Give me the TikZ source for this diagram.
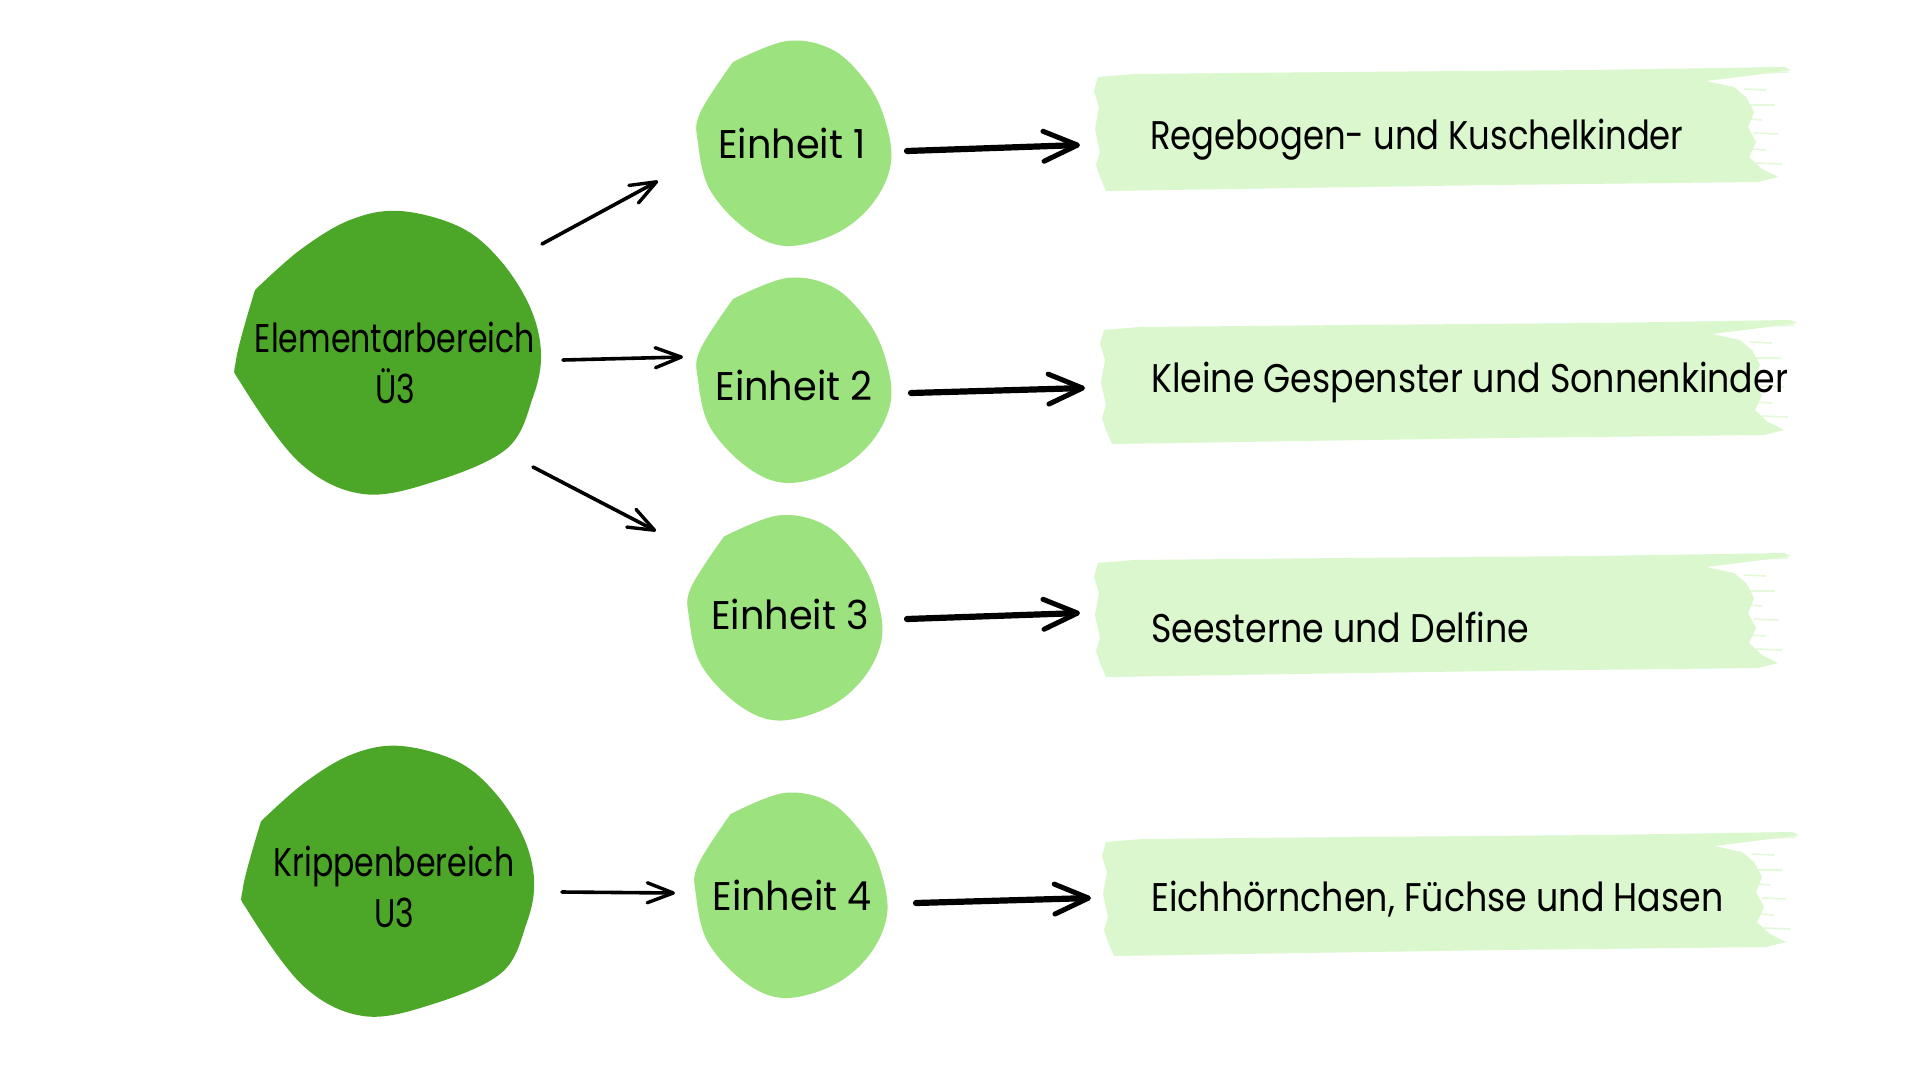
\documentclass[tikz,border=0pt]{standalone}
\usepackage{fontspec}
\setmainfont{Poppins}[FakeStretch=0.9]
\newfontfamily\fe{Poppins}[FakeStretch=0.955]
\newfontfamily\fb{Poppins}[FakeStretch=0.79]
\newfontfamily\fta{Poppins}[FakeStretch=0.846]
\newfontfamily\ftb{Poppins}[FakeStretch=0.87]
\usetikzlibrary{arrows.meta}
\definecolor{darkgreen}{HTML}{4CA628}
\definecolor{lightgreen}{HTML}{9CE27E}
\definecolor{bandc}{HTML}{DBF7CD}
\begin{document}
\begin{tikzpicture}[x=1pt,y=-1pt,
  txt/.style={inner sep=0pt, align=center, text=black},
  areatxt/.style={txt, font=\fb\fontsize{40}{51}\selectfont},
  unittxt/.style={txt, font=\fe\fontsize{40}{51}\selectfont},
  bandtxt/.style={txt, anchor=base west, font=\ftb\fontsize{40}{51}\selectfont},
  bandtxtnarrow/.style={bandtxt, font=\fta\fontsize{40}{51}\selectfont},
  thinarrow/.style={line width=3.6pt, line cap=round, -{Straight Barb[length=26pt,width=20pt,line width=3.4pt,round]}},
  thickarrow/.style={line width=6.2pt, line cap=round, -{Straight Barb[length=34pt,width=30pt,line width=5pt,round]}},
  darkblob/.pic={\fill[darkgreen] plot[smooth,tension=0.6] coordinates {(-133.5,-62.5) (-152.5,7.5) (-146.5,32.5) (-88.5,110.5) (-25.5,141.5) (46,129) (118.5,96) (144.5,44.5) (152.5,0.5) (141.5,-45.5) (111.5,-92.5) (71.5,-125.5) (11.5,-141.5) (-38.5,-132.5) (-88.5,-102.5) (-133.5,-62.5)} -- cycle;},
  lightblob/.pic={\fill[lightgreen] plot[smooth,tension=0.6] coordinates {(-61.5,-81.5) (-94.5,-30.5) (-96.5,-0.5) (-84.5,46.5) (-47.5,86.5) (-7.5,102.5) (42.5,89.5) (78.5,59.5) (96.5,19.5) (90.5,-23.5) (72.5,-60.5) (38.5,-93.5) (-7.5,-102.5) (-61.5,-81.5)} -- cycle;},
  brush/.pic={
    \fill[bandc] (4,10) -- (40,7) -- (250,5) -- (500,3) -- (690,0) -- (697,3) -- (660,8) -- (612,14) -- (640,20) -- (652,30) -- (660,45) -- (654,60) -- (662,75) -- (655,90) -- (668,102) -- (684,110) -- (664,115) -- (400,118) -- (200,121) -- (12,124) -- (6,110) -- (2,98) -- (6,85) -- (1,62) -- (5,40) -- (0,24) -- cycle;
    \begin{scope}[bandc, line width=1.6pt, opacity=0.75]
      \draw (640,7) -- (694,5);
      \draw (650,22) -- (672,23);
      \draw (656,38) -- (681,38);
      \draw (656,52) -- (668,53);
      \draw (660,66) -- (684,67);
      \draw (656,82) -- (672,83);
      \draw (662,96) -- (688,97);
    \end{scope}
  }
]
\fill[white] (0,0) rectangle (1920,1080);
\useasboundingbox (0,0) rectangle (1920,1080);

% brush bands
\pic at (1094,67) {brush};
\pic at (1100,320) {brush};
\pic at (1094,553) {brush};
\pic at (1102,832) {brush};

% blobs
\pic at (388.5,352.5) {darkblob};
\pic[scale=0.955] at (388.5,881) {darkblob};
\pic at (794.5,143.5) {lightblob};
\pic at (794.5,380.5) {lightblob};
\pic at (785.5,618) {lightblob};
\pic[xscale=0.99] at (791.5,895.5) {lightblob};

% texts
\node[areatxt] (elem) at (395,362.7) {Elementarbereich\\Ü3};
\node[areatxt] (krip) at (394,887.2) {Krippenbereich\\U3};
\node[unittxt] (e1) at (792,143.2) {Einheit 1};
\node[unittxt] (e2) at (794,385.2) {Einheit 2};
\node[unittxt] (e3) at (790,614.2) {Einheit 3};
\node[unittxt] (e4) at (792,895.2) {Einheit 4};
\node[bandtxtnarrow] (t1) at (1150,149) {Regebogen- und Kuschelkinder};
\node[bandtxt] (t2) at (1151,392) {Kleine Gespenster und Sonnenkinder};
\node[bandtxt] (t3) at (1151,642) {Seesterne und Delfine};
\node[bandtxt] (t4) at (1151,911) {Eichhörnchen, Füchse und Hasen};

% thin arrows
\draw[thinarrow] ([shift={(147,-118.7)}]elem.center) -- ([shift={(-134,37.8)}]e1.center);
\draw[thinarrow] ([shift={(168,-2.7)}]elem.center) -- ([shift={(-111,-28.2)}]e2.center);
\draw[thinarrow] ([shift={(138,104.3)}]elem.center) -- ([shift={(-134,-83.2)}]e3.center);
\draw[thinarrow] ([shift={(168,4.8)}]krip.center) -- ([shift={(-117,-2.2)}]e4.center);

% thick arrows
\draw[thickarrow] ([shift={(115,7.8)}]e1.center) -- ([shift={(-70,-4)}]t1.base west);
\draw[thickarrow] ([shift={(117,7.8)}]e2.center) -- ([shift={(-66,-4)}]t2.base west);
\draw[thickarrow] ([shift={(117,4.8)}]e3.center) -- ([shift={(-71,-29)}]t3.base west);
\draw[thickarrow] ([shift={(124,7.8)}]e4.center) -- ([shift={(-60,-13)}]t4.base west);
\end{tikzpicture}
\end{document}
